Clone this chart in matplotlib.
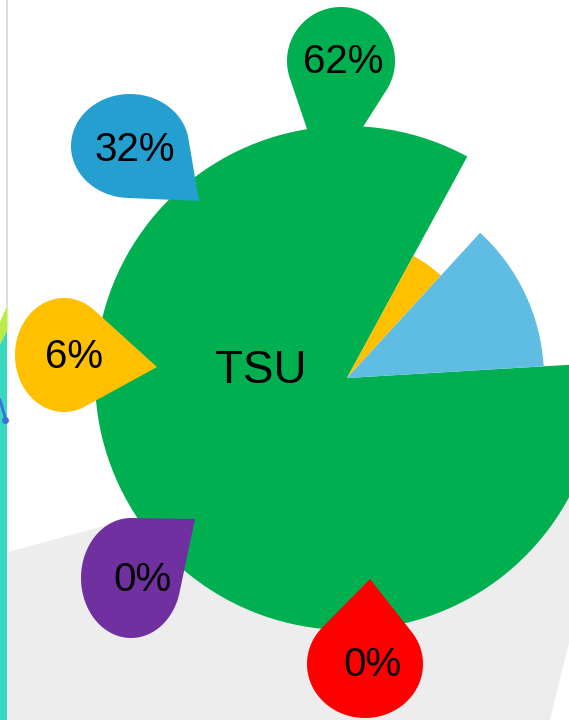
import numpy as np
import matplotlib
matplotlib.use("Agg")
import matplotlib.pyplot as plt
from matplotlib.patches import Wedge, Polygon, Rectangle

plt.rcParams["font.family"] = ["Liberation Sans", "DejaVu Sans"]

# slices of the rose chart (degrees of sweep, outer radius in px)
slice_names = ["TSU", "Blue", "Yellow"]
slice_colors = ["#00b050", "#5fbce3", "#ffc000"]
slice_start = [61.5, 3.4, 47.5]
slice_end = [363.4, 47.5, 61.5]
slice_radius = [252, 197, 139]

# label bubbles
label_text = ["62%", "32%", "6%", "0%", "0%"]
label_colors = ["#00b050", "#259fd0", "#ffc000", "#7030a0", "#ff0000"]

center = (347, 342)


def teardrop(ax, cx, cy, rx, ry, tx, ty, color):
    # work in unit-circle space, then scale back
    ux, uy = (tx - cx) / rx, (ty - cy) / ry
    d = np.hypot(ux, uy)
    phi = np.arctan2(uy, ux)
    a = np.arccos(1.0 / d)
    th = np.linspace(phi + a, phi + 2 * np.pi - a, 120)
    xs = cx + rx * np.cos(th)
    ys = cy + ry * np.sin(th)
    pts = np.column_stack([np.append(xs, tx), np.append(ys, ty)])
    ax.add_patch(Polygon(pts, closed=True, facecolor=color, edgecolor="none", zorder=4))


fig = plt.figure(figsize=(5.69, 7.2), dpi=100)
ax = fig.add_axes([0, 0, 1, 1])
ax.set_xlim(0, 569)
ax.set_ylim(0, 720)
ax.axis("off")

# background bits
ax.add_patch(Polygon([(8, 168), (569, 320), (569, 77), (550, 0), (8, 0)],
                     closed=True, facecolor="#ededed", edgecolor="none", zorder=0))
ax.add_patch(Rectangle((0, 0), 7.5, 395, facecolor="#36d8c0", edgecolor="none", zorder=1))
ax.add_patch(Polygon([(0, 375), (7.5, 390), (7.5, 415), (0, 398)],
                     closed=True, facecolor="#b8ec48", edgecolor="none", zorder=1))
ax.plot([7.5, 7.5], [415, 720], color="#dddddd", lw=1.5, zorder=1)
ax.plot([0, 5], [320, 303], color="#3d6fd8", lw=2, zorder=2)
ax.plot([5], [300], "o", color="#3d6fd8", ms=4, zorder=2)

# yellow sits under blue
for i in [0, 2, 1]:
    ax.add_patch(Wedge(center, slice_radius[i], slice_start[i], slice_end[i],
                       facecolor=slice_colors[i], edgecolor="none", zorder=3))

bubbles = [
    (341, 659, 54, 54, 326, 535),
    (130, 574, 59, 52, 199, 519),
    (64, 365, 49, 57, 157, 353),
    (131, 142, 50, 60, 195, 201),
    (365, 56, 58, 54, 370, 141),
]
text_pos = [(343, 658), (135, 570), (74, 363), (142, 140), (372, 55)]

for (cx, cy, rx, ry, tx, ty), col in zip(bubbles, label_colors):
    teardrop(ax, cx, cy, rx, ry, tx, ty, col)

for (x, y), t in zip(text_pos, label_text):
    ax.text(x, y, t, fontsize=29, ha="center", va="center", color="black", zorder=5)

ax.text(261, 349, slice_names[0], fontsize=33, ha="center", va="center", color="black", zorder=5)

fig.savefig("out.png", dpi=100)
